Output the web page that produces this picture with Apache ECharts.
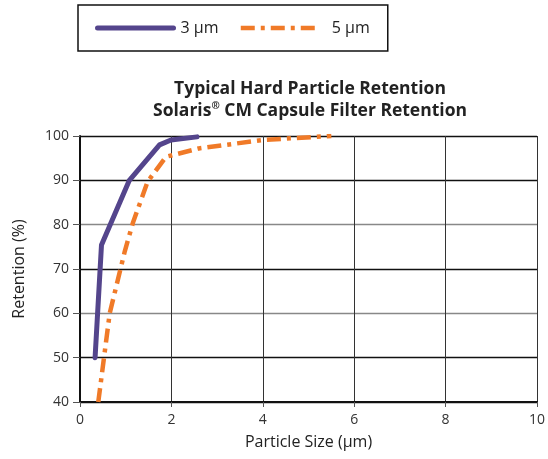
<!DOCTYPE html>
<html><head><meta charset="utf-8">
<script src="https://cdn.jsdelivr.net/npm/echarts@6/dist/echarts.min.js"></script>
<style>html,body{margin:0;padding:0;background:#fff}#c{width:548px;height:459px}</style>
</head><body><div id="c"></div>
<script>
const titleLines = ['Typical Hard Particle Retention', 'Solaris{sup|®} CM Capsule Filter Retention'];
const xName = 'Particle Size (µm)';
const yName = 'Retention (%)';
const seriesNames = ['3 µm', '5 µm'];
const s3x = [0.33, 0.47, 1.08, 1.74, 1.99, 2.56];
const s3y = [50, 75.4, 90, 98, 99.1, 99.8];
const s5x = [0.40, 0.65, 0.98, 1.16, 1.48, 1.88, 2.6, 4.0, 5.5];
const s5y = [40, 60, 74, 80.5, 89.7, 95.3, 97.2, 99.1, 100];
const xMin = 0, xMax = 10, xStep = 2;
const yMin = 40, yMax = 100, yStep = 10;

const font = 'Open Sans';
const purple = '#54458c', orange = '#f07a28';
const dashDot = [14, 6, 4, 6];
const chart = echarts.init(document.getElementById('c'));
chart.setOption({
  animation: false,
  textStyle: {fontFamily: font},
  title: {
    text: titleLines.join('\n'),
    left: 305, top: 73, textAlign: 'center',
    textStyle: {
      fontFamily: font, fontWeight: 'bold', fontSize: 17.5, lineHeight: 22, color: '#222',
      rich: {sup: {fontFamily: font, fontWeight: 'bold', fontSize: 10, color: '#222', lineHeight: 22, padding: [0, 0, 9, 0]}}
    }
  },
  legend: {
    left: 78, top: 5,
    padding: [15, 18, 15, 17],
    itemGap: 20,
    itemWidth: 76, itemHeight: 14,
    borderColor: '#111', borderWidth: 1.5,
    itemStyle: {opacity: 0},
    textStyle: {fontFamily: font, fontSize: 16, color: '#222'},
    data: [
      {name: seriesNames[0], itemStyle: {opacity: 0}, lineStyle: {color: purple, width: 5, cap: 'round'}, textStyle: {padding: [0, 0, 0, 2]}},
      {name: seriesNames[1], itemStyle: {opacity: 0}, lineStyle: {color: orange, width: 4.5, type: dashDot}, textStyle: {padding: [0, 0, 0, 10]}}
    ]
  },
  grid: {left: 80, right: 7, top: 136, bottom: 57, containLabel: false},
  xAxis: {
    type: 'value', min: xMin, max: xMax, interval: xStep,
    name: xName, nameLocation: 'middle', nameGap: 32,
    nameTextStyle: {fontFamily: font, fontSize: 16, color: '#222'},
    axisLine: {lineStyle: {color: '#111', width: 2}},
    axisTick: {show: true, length: 5, lineStyle: {color: '#555'}},
    axisLabel: {fontFamily: font, fontSize: 14, color: '#333', margin: 11},
    splitLine: {show: true, lineStyle: {color: '#333', width: 1}}
  },
  yAxis: {
    type: 'value', min: yMin, max: yMax, interval: yStep,
    name: yName, nameLocation: 'middle', nameGap: 53, nameRotate: 90,
    nameTextStyle: {fontFamily: font, fontSize: 16, color: '#222'},
    axisLine: {show: true, lineStyle: {color: '#111', width: 2}},
    axisTick: {show: true, length: 7, lineStyle: {color: '#555'}},
    axisLabel: {fontFamily: font, fontSize: 14, color: '#333', margin: 11},
    splitLine: {show: true, lineStyle: {color: ['#111','#111','#888','#111','#888','#111','#111'], width: 1.3}}
  },
  series: [
    {
      name: seriesNames[0], type: 'line', showSymbol: false, symbol: 'none',
      data: s3x.map((x, i) => [x, s3y[i]]),
      lineStyle: {color: purple, width: 5, cap: 'round', join: 'round'},
      itemStyle: {color: purple}
    },
    {
      name: seriesNames[1], type: 'line', showSymbol: false, symbol: 'none',
      data: s5x.map((x, i) => [x, s5y[i]]),
      lineStyle: {color: orange, width: 4.5, type: dashDot},
      itemStyle: {color: orange}
    }
  ]
});
</script></body></html>
